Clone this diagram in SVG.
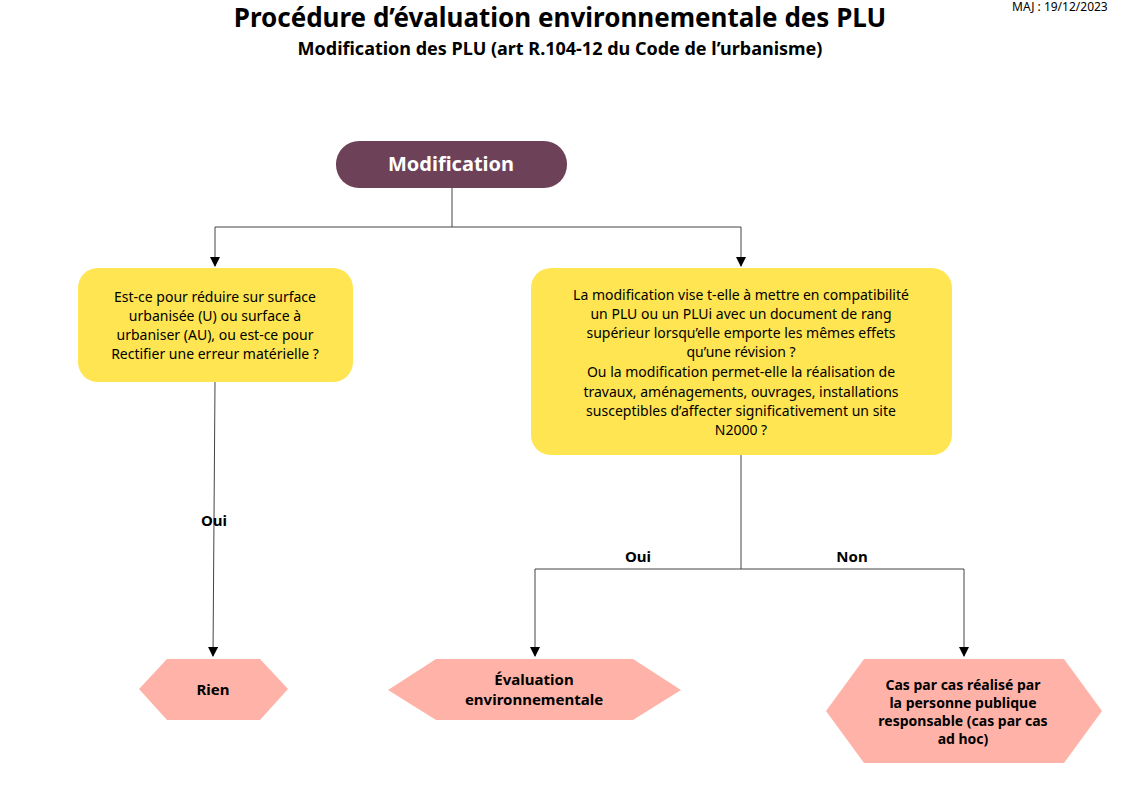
<svg xmlns="http://www.w3.org/2000/svg" width="1123" height="794" viewBox="0 0 1123 794">
<defs>
<style>
text{font-family:"Noto Sans","Open Sans",sans-serif;fill:#000}
.q{font-size:14px;text-anchor:middle}
.h{font-size:15px;font-weight:bold;text-anchor:middle}
.y{fill:#ffe552}
.p{fill:#ffb3a8}
.c{stroke:#444;stroke-width:1;fill:none}
</style>
<marker id="a" markerWidth="10" markerHeight="10" refX="9" refY="5" orient="auto" markerUnits="userSpaceOnUse"><path d="M0,0 L10,5 L0,10 z" fill="#000"/></marker>
</defs>
<rect width="1123" height="794" fill="#fff"/>
<text x="560" y="27" font-size="26" font-weight="bold" text-anchor="middle">Procédure d’évaluation environnementale des PLU</text>
<text x="560" y="55" font-size="18" font-weight="bold" text-anchor="middle">Modification des PLU (art R.104-12 du Code de l’urbanisme)</text>
<text x="1012" y="11" font-size="12">MAJ : 19/12/2023</text>
<g id="connectors">
<path class="c" d="M452,188 V227"/>
<path class="c" d="M215,227 H741"/>
<path class="c" d="M215,227 V266" marker-end="url(#a)"/>
<path class="c" d="M741,227 V266" marker-end="url(#a)"/>
<path class="c" d="M215,382 L213,656" marker-end="url(#a)"/>
<path class="c" d="M741,455 V569 H535 V656" marker-end="url(#a)"/>
<path class="c" d="M741,569 H964 V656" marker-end="url(#a)"/>
<text x="214" y="526" font-size="15" font-weight="bold" text-anchor="middle">Oui</text>
<text x="638" y="562" font-size="15" font-weight="bold" text-anchor="middle">Oui</text>
<text x="852" y="562" font-size="15" font-weight="bold" text-anchor="middle">Non</text>
</g>
<g id="modification">
<rect x="336" y="141" width="231" height="47" rx="23" fill="#6d4259"/>
<text x="451" y="171" font-size="20" font-weight="bold" text-anchor="middle" style="fill:#fff">Modification</text>
</g>
<g id="q1">
<rect class="y" x="78" y="268" width="275" height="114" rx="20"/>
<text class="q" x="215" y="302">Est-ce pour réduire sur surface</text>
<text class="q" x="215" y="321">urbanisée (U) ou surface à</text>
<text class="q" x="215" y="340">urbaniser (AU), ou est-ce pour</text>
<text class="q" x="215" y="359">Rectifier une erreur matérielle ?</text>
</g>
<g id="q2">
<rect class="y" x="531" y="268" width="421" height="187" rx="20"/>
<text class="q" x="741" y="300">La modification vise t-elle à mettre en compatibilité</text>
<text class="q" x="741" y="319">un PLU ou un PLUi avec  un document de rang</text>
<text class="q" x="741" y="338">supérieur lorsqu’elle  emporte  les mêmes effets</text>
<text class="q" x="741" y="357">qu’une révision ?</text>
<text class="q" x="741" y="377">Ou la modification permet-elle la réalisation de</text>
<text class="q" x="741" y="397">travaux,  aménagements, ouvrages, installations</text>
<text class="q" x="741" y="416">susceptibles d’affecter significativement un site</text>
<text class="q" x="741" y="435">N2000 ?</text>
</g>
<g id="rien">
<polygon class="p" points="139,689 167,659 260,659 288,689 260,720 167,720"/>
<text class="h" x="213" y="695">Rien</text>
</g>
<g id="eval">
<polygon class="p" points="388,690 436,659 633,659 681,690 633,720 436,720"/>
<text class="h" x="534" y="685">Évaluation</text>
<text class="h" x="534" y="705">environnementale</text>
</g>
<g id="cas">
<polygon class="p" points="826,711 864,659 1064,659 1102,711 1064,763 864,763"/>
<text class="q" x="963" y="690" font-weight="bold" font-size="13">Cas par cas réalisé par</text>
<text class="q" x="963" y="708" font-weight="bold" font-size="13">la personne publique</text>
<text class="q" x="963" y="726" font-weight="bold" font-size="13">responsable (cas par cas</text>
<text class="q" x="963" y="744" font-weight="bold" font-size="13">ad hoc)</text>
</g>
</svg>
